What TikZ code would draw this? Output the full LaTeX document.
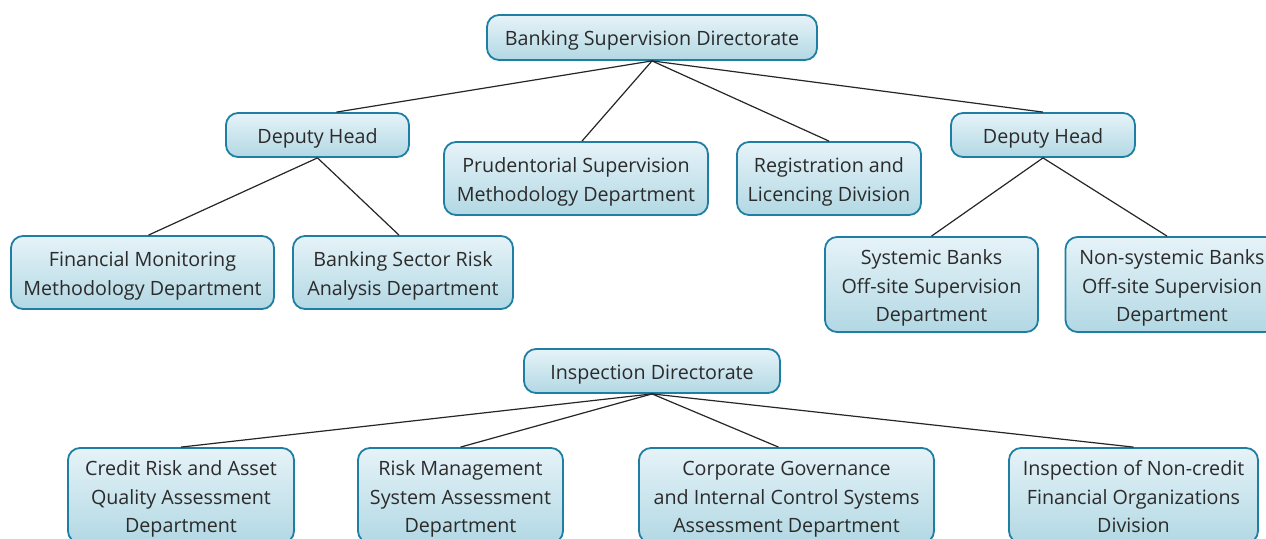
\documentclass[tikz,border=0pt]{standalone}
\usepackage{fontspec}
\setmainfont{Open Sans}
\definecolor{boxline}{HTML}{1E7FA3}
\definecolor{boxtop}{HTML}{E6F3F8}
\definecolor{boxbot}{HTML}{B2D8E4}
\definecolor{txt}{HTML}{2B2B2B}
\newcommand\bxlines[1]{\raisebox{0pt}[\dimexpr\height+6pt\relax][\depth]{\begin{tabular}{@{}c@{}}#1\end{tabular}}}
\tikzset{
  orgbox/.style={draw=boxline, line width=1.8pt, rounded corners=12pt,
    top color=boxtop, bottom color=boxbot, text=txt, align=center,
    inner sep=0pt, font=\fontsize{19.7}{28.5}\selectfont,
    execute at begin node={\rule{0pt}{21pt}},
    execute at end node={\rule[-5pt]{0pt}{5pt}}},
  link/.style={draw=black!85, line width=1.2pt}
}
\begin{document}
\begin{tikzpicture}[x=1pt,y=-1pt]
\useasboundingbox (0,0) rectangle (1266,538);
\clip (0,0) rectangle (1266,538);
\fill[white] (0,0) rectangle (1266,538);
% nodes
\node[orgbox, minimum width=330pt, minimum height=45pt] (bsd) at (652,37.5) {Banking Supervision Directorate};
\node[orgbox, minimum width=183pt, minimum height=44pt] (dh1) at (317.5,135) {Deputy Head};
\node[orgbox, minimum width=264pt, minimum height=73pt] (pru) at (576,178.5) {\bxlines{Prudentorial Supervision\\Methodology Department}};
\node[orgbox, minimum width=184pt, minimum height=73pt] (reg) at (829,178.5) {\bxlines{Registration and\\Licencing Division}};
\node[orgbox, minimum width=184pt, minimum height=44pt] (dh2) at (1043,135) {Deputy Head};
\node[orgbox, minimum width=263pt, minimum height=73pt] (fin) at (142.5,272.5) {\bxlines{Financial Monitoring\\Methodology Department}};
\node[orgbox, minimum width=220pt, minimum height=73pt] (bsr) at (403,272.5) {\bxlines{Banking Sector Risk\\Analysis Department}};
\node[orgbox, minimum width=213pt, minimum height=95pt] (sys) at (931.5,284.5) {\bxlines{Systemic Banks\\Off-site Supervision\\Department}};
\node[orgbox, minimum width=213pt, minimum height=95pt] (non) at (1172,284.5) {\bxlines{Non-systemic Banks\\Off-site Supervision\\Department}};
\node[orgbox, minimum width=256pt, minimum height=44pt] (insp) at (652,371) {Inspection Directorate};
\node[orgbox, minimum width=226pt, minimum height=95pt] (cr) at (181,495.5) {\bxlines{Credit Risk and Asset\\Quality Assessment\\Department}};
\node[orgbox, minimum width=205pt, minimum height=95pt] (rm) at (460.5,495.5) {\bxlines{Risk Management\\System Assessment\\Department}};
\node[orgbox, minimum width=295pt, minimum height=95pt] (cg) at (786.5,495.5) {\bxlines{Corporate Governance\\and Internal Control Systems\\Assessment Department}};
\node[orgbox, minimum width=249pt, minimum height=95pt] (inc) at (1133.5,495.5) {\bxlines{Inspection of Non-credit\\Financial Organizations\\Division}};
% connectors
\draw[link] (bsd.south) -- ([xshift=19pt]dh1.north);
\draw[link] (bsd.south) -- ([xshift=6pt]pru.north);
\draw[link] (bsd.south) -- (reg.north);
\draw[link] (bsd.south) -- (dh2.north);
\draw[link] (dh1.south) -- ([xshift=6pt]fin.north);
\draw[link] (dh1.south) -- ([xshift=-4pt]bsr.north);
\draw[link] (dh2.south) -- (sys.north);
\draw[link] (dh2.south) -- ([xshift=-5pt]non.north);
\draw[link] (insp.south) -- (cr.north);
\draw[link] (insp.south) -- (rm.north);
\draw[link] (insp.south) -- ([xshift=-8pt]cg.north);
\draw[link] (insp.south) -- (inc.north);
\end{tikzpicture}
\end{document}
